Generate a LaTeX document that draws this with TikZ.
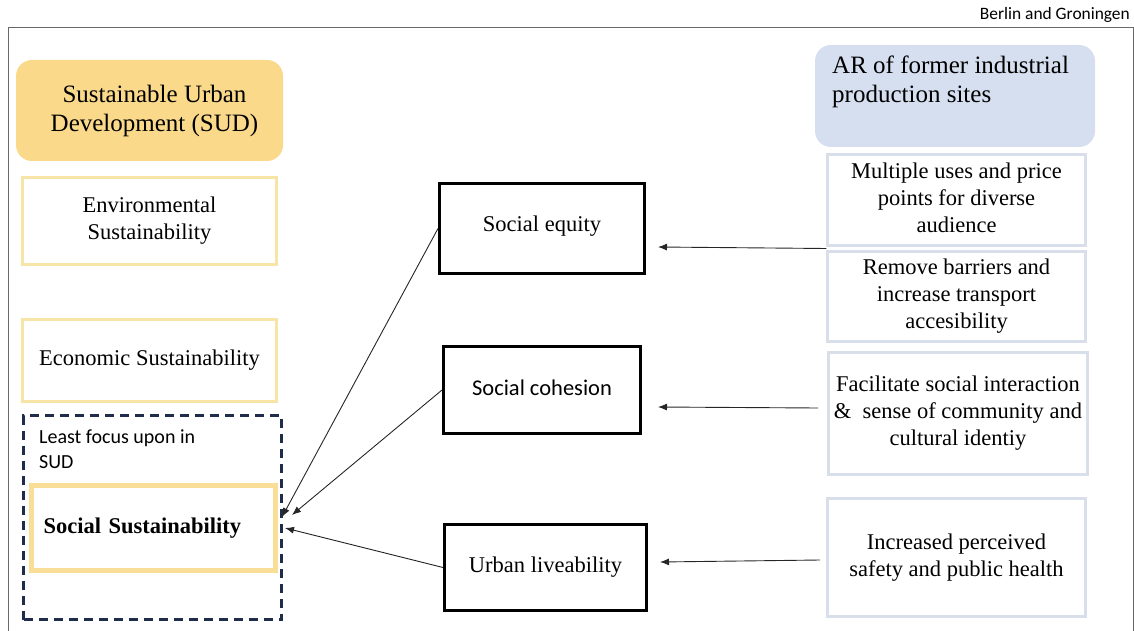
\documentclass[tikz,border=0pt]{standalone}
\usepackage{fontspec}
\setmainfont{Liberation Serif}
\newfontfamily\calibri{Carlito}
\usepackage{tikz}
\usetikzlibrary{calc,arrows.meta,positioning}
\definecolor{sudyellow}{RGB}{250,218,138}
\definecolor{lightyellow}{RGB}{247,229,168}
\definecolor{ssyellow}{RGB}{248,222,150}
\definecolor{arblue}{RGB}{214,223,239}
\definecolor{boxblue}{RGB}{216,222,234}
\definecolor{navy}{RGB}{31,45,74}
\definecolor{framegrey}{RGB}{105,105,105}

\begin{document}
\begin{tikzpicture}[x=1pt,y=-1pt]

\tikzset{txt/.style={font=\fontsize{22.5}{27}\selectfont,align=center,inner sep=0pt},
headbox/.style={rounded corners=16pt,inner sep=0pt,font=\fontsize{25}{29}\selectfont,align=center},
pillar/.style={txt,draw=lightyellow,line width=3pt,minimum width=254pt,minimum height=88pt},
midbox/.style={txt,draw=black,line width=3pt},
aspect/.style={txt,draw=boxblue,line width=2.5pt,minimum width=258pt},
conn/.style={draw=black!85,line width=0.9pt,-{Latex[length=9pt,width=7pt]}}}

\useasboundingbox (0,0) rectangle (1134,631);

% Frame
\draw[framegrey,line width=1pt] (8,631) -- (8,28) -- (1133,28) -- (1133,631);
\node[font=\calibri\fontsize{17.4}{20}\selectfont,inner sep=0pt,anchor=base east] (place) at (1130,20) {Berlin and Groningen};

% SUD column
\node (sud) [headbox,fill=sudyellow,minimum width=267pt,minimum height=101pt] at (149.5,110.5) {\hspace*{10pt}Sustainable Urban\\\hspace*{10pt}Development (SUD)};
\node (env) [pillar,minimum height=87pt] at (149.5,221) {Environmental\\Sustainability};
\node (econ) [pillar,minimum height=82pt] at (149.5,360.5) {Economic Sustainability};
\node (focus) [draw=navy,line width=3pt,dash pattern=on 9pt off 6pt,minimum width=258pt,minimum height=204pt] at (152.5,517.5) {};
\node[font=\calibri\fontsize{20}{25}\selectfont,align=left,inner sep=0pt,anchor=north west] (focuslabel) at (39,430) {Least focus upon in\\SUD};
\node (sosus) [txt,draw=ssyellow,line width=4.5pt,minimum width=244pt,minimum height=85pt,text width=220pt,inner xsep=12pt,align=left] at (153.5,528) {\raisebox{-6pt}{\textbf{Social Sustainability}}};

% Social dimensions
\node (equity) [midbox,minimum width=205pt,minimum height=90pt] at (542,228.5) {\raisebox{10pt}{Social equity}};
\node (cohesion) [midbox,minimum width=197pt,minimum height=87pt] at (542,390) {\raisebox{5pt}{\calibri Social cohesion}};
\node (liveab) [midbox,minimum width=202pt,minimum height=86pt] at (545.5,567.5) {Urban liveability};

% AR column
\node (ar) [headbox,fill=arblue,minimum width=280pt,minimum height=102pt] at (955,96) {};
\node[headbox,align=left,anchor=west] (artext) at (832,82) {AR of former industrial\\production sites};
\node (multi) [aspect,minimum height=91pt] at (956.5,200) {\raisebox{6pt}{\begin{tabular}{@{}c@{}}Multiple uses and price\\points for diverse\\audience\end{tabular}}};
\node (remove) [aspect,minimum height=90pt] at (956.5,296.5) {\raisebox{-3pt}{\begin{tabular}{@{}c@{}}Remove barriers and\\increase transport\\accesibility\end{tabular}}};
\node (facil) [aspect,minimum width=259pt,minimum height=122pt] at (958,413.5) {\raisebox{-2pt}{\begin{tabular}{@{}c@{}}Facilitate social interaction\\\&\ \ sense of community and\\cultural identiy\end{tabular}}};
\node (incr) [aspect,minimum height=118pt] at (956.5,557.5) {Increased perceived\\safety and public health};

% Connectors
\coordinate (eqin) at (658,247);
\coordinate (cohin) at (658,407);
\coordinate (livin) at (660,562);
\coordinate (facout) at (818,408);
\coordinate (incout) at (820,560);
\draw[conn] ($(multi.south west)!0.5!(remove.north west)$) -- (eqin);
\draw[conn] (facout) -- (cohin);
\draw[conn] (incout) -- (livin);

\coordinate (ss1) at (282,517);
\coordinate (ss2) at (292,515);
\coordinate (ss3) at (285,528);
\draw[conn] (equity.west) -- (ss1);
\draw[conn] (cohesion.west) -- (ss2);
\draw[conn] (liveab.west) -- (ss3);

\end{tikzpicture}
\end{document}
